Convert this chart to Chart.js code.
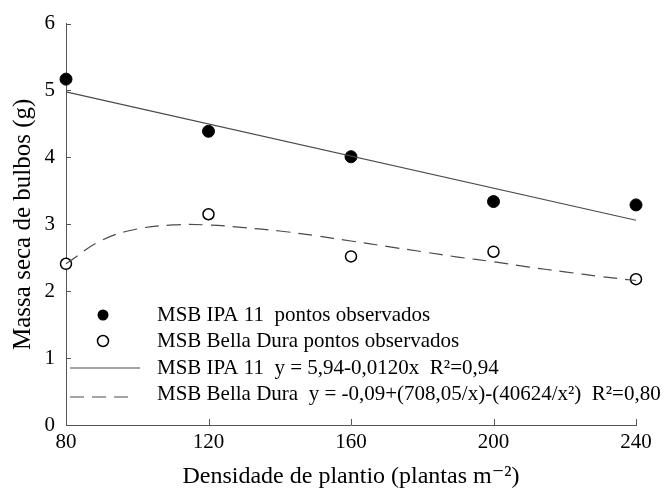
<!DOCTYPE html>
<html>
<head>
<meta charset="utf-8">
<script src="https://cdn.jsdelivr.net/npm/chart.js@4.4.0/dist/chart.umd.min.js"></script>
<style>
  body { margin: 0; background: #fff; }
  #chart { display: block; }
</style>
</head>
<body>
<canvas id="chart" width="668" height="489"></canvas>
<script>
// densities (plantas m-2)
const densities = [80, 120, 160, 200, 240];

const ipaObserved = [5.17, 4.39, 4.01, 3.34, 3.29];
const bellaObserved = [2.41, 3.15, 2.52, 2.59, 2.18];

// fitted lines
const ipaFitX = [80, 240];
const ipaFitY = [4.98, 3.06];
const bellaFitX = [80, 90, 100, 110, 120, 130, 140, 150, 160, 170, 180, 190, 200, 210, 220, 230, 240];
const bellaFitY = [2.41, 2.76, 2.93, 2.99, 2.99, 2.95, 2.90, 2.83, 2.75, 2.67, 2.59, 2.51, 2.44, 2.36, 2.29, 2.22, 2.16];

const xTicks = [80, 120, 160, 200, 240];
const yTicks = [0, 1, 2, 3, 4, 5, 6];

const legendLabels = [
    'MSB IPA 11  pontos observados',
    'MSB Bella Dura pontos observados',
    'MSB IPA 11  y = 5,94-0,0120x  R²=0,94',
    'MSB Bella Dura  y = -0,09+(708,05/x)-(40624/x²)  R²=0,80'
];

const serif = '"Liberation Serif", "DejaVu Serif", serif';
const lineColor = '#4a4a4a';

function toPoints(xs, ys) {
    return xs.map((x, i) => ({ x: x, y: ys[i] }));
}

// small tick marks pointing into the plot
const innerTicks = {
    id: 'innerTicks',
    afterDraw(chart) {
        const ctx = chart.ctx;
        const xs = chart.scales.x;
        const ys = chart.scales.y;
        ctx.save();
        ctx.strokeStyle = '#555';
        ctx.lineWidth = 1;
        ctx.beginPath();
        yTicks.forEach(v => {
            if (v === 0) return;
            const py = Math.round(ys.getPixelForValue(v)) + 0.5;
            ctx.moveTo(xs.left, py);
            ctx.lineTo(xs.left + 5, py);
        });
        xTicks.forEach(v => {
            if (v === xTicks[0]) return;
            const px = Math.round(xs.getPixelForValue(v)) + 0.5;
            ctx.moveTo(px, ys.bottom);
            ctx.lineTo(px, ys.bottom - 6);
        });
        ctx.stroke();
        ctx.restore();
    }
};

// legend drawn inside the plot, bottom left
const insideLegend = {
    id: 'insideLegend',
    afterDraw(chart) {
        const ctx = chart.ctx;
        const left = chart.chartArea.left;
        const rows = [315, 341, 368, 394];
        ctx.save();
        ctx.font = '21px ' + serif;
        ctx.fillStyle = '#000';
        ctx.textBaseline = 'middle';
        legendLabels.forEach((t, i) => ctx.fillText(t, left + 91, rows[i]));

        // markers
        ctx.beginPath();
        ctx.arc(left + 37, rows[0], 5.5, 0, Math.PI * 2);
        ctx.fill();
        ctx.beginPath();
        ctx.arc(left + 37, rows[1], 5.5, 0, Math.PI * 2);
        ctx.lineWidth = 1.5;
        ctx.strokeStyle = '#000';
        ctx.stroke();

        // line samples
        ctx.strokeStyle = lineColor;
        ctx.lineWidth = 1.2;
        ctx.beginPath();
        ctx.moveTo(left + 4, rows[2]);
        ctx.lineTo(left + 74, rows[2]);
        ctx.stroke();
        ctx.setLineDash([14, 8]);
        ctx.beginPath();
        ctx.moveTo(left + 4, rows[3] + 3);
        ctx.lineTo(left + 68, rows[3] + 3);
        ctx.stroke();
        ctx.restore();
    }
};

function drawChart() {
    new Chart(document.getElementById('chart'), {
        type: 'scatter',
        data: {
            datasets: [
                {
                    label: 'MSB IPA 11 ajuste',
                    data: toPoints(ipaFitX, ipaFitY),
                    showLine: true,
                    borderColor: lineColor,
                    borderWidth: 1.2,
                    pointRadius: 0,
                    fill: false,
                    clip: false
                },
                {
                    label: 'MSB Bella Dura ajuste',
                    data: toPoints(bellaFitX, bellaFitY),
                    showLine: true,
                    borderColor: lineColor,
                    borderWidth: 1.2,
                    borderDash: [14, 8],
                    tension: 0.4,
                    pointRadius: 0,
                    fill: false,
                    clip: false
                },
                {
                    label: 'MSB IPA 11 pontos observados',
                    data: toPoints(densities, ipaObserved),
                    pointRadius: 6,
                    pointBackgroundColor: '#000',
                    pointBorderColor: '#000',
                    pointBorderWidth: 1,
                    clip: false
                },
                {
                    label: 'MSB Bella Dura pontos observados',
                    data: toPoints(densities, bellaObserved),
                    pointRadius: 5.5,
                    pointBackgroundColor: '#fff',
                    pointBorderColor: '#000',
                    pointBorderWidth: 1.5,
                    clip: false
                }
            ]
        },
        options: {
            responsive: false,
            animation: false,
            devicePixelRatio: 1,
            layout: { padding: { left: 0, right: 32, top: 19, bottom: 0 } },
            plugins: {
                legend: { display: false },
                tooltip: { enabled: false }
            },
            scales: {
                x: {
                    type: 'linear',
                    min: 80,
                    max: 240,
                    afterBuildTicks: s => { s.ticks = xTicks.map(v => ({ value: v })); },
                    afterFit: s => { s.height = 64; },
                    grid: { display: false, drawTicks: false },
                    border: { display: true, color: '#555', width: 1 },
                    ticks: { color: '#000', font: { family: serif, size: 21 }, padding: 5, maxRotation: 0 },
                    title: {
                        display: true,
                        text: 'Densidade de plantio (plantas m⁻²)',
                        color: '#000',
                        font: { family: serif, size: 24, lineHeight: 1 },
                        padding: { top: 0, bottom: 0 }
                    }
                },
                y: {
                    type: 'linear',
                    min: 0,
                    max: 6,
                    afterBuildTicks: s => { s.ticks = yTicks.map(v => ({ value: v })); },
                    afterFit: s => { s.width = 66; },
                    grid: { display: false, drawTicks: false },
                    border: { display: true, color: '#555', width: 1 },
                    ticks: { color: '#000', font: { family: serif, size: 21 }, padding: 11 },
                    title: {
                        display: true,
                        text: 'Massa seca de bulbos (g)',
                        color: '#000',
                        font: { family: serif, size: 25 },
                        padding: { top: 8, bottom: 0 }
                    }
                }
            }
        },
        plugins: [innerTicks, insideLegend]
    });
}

document.fonts.load('21px "Liberation Serif"').then(drawChart, drawChart);
</script>
</body>
</html>
